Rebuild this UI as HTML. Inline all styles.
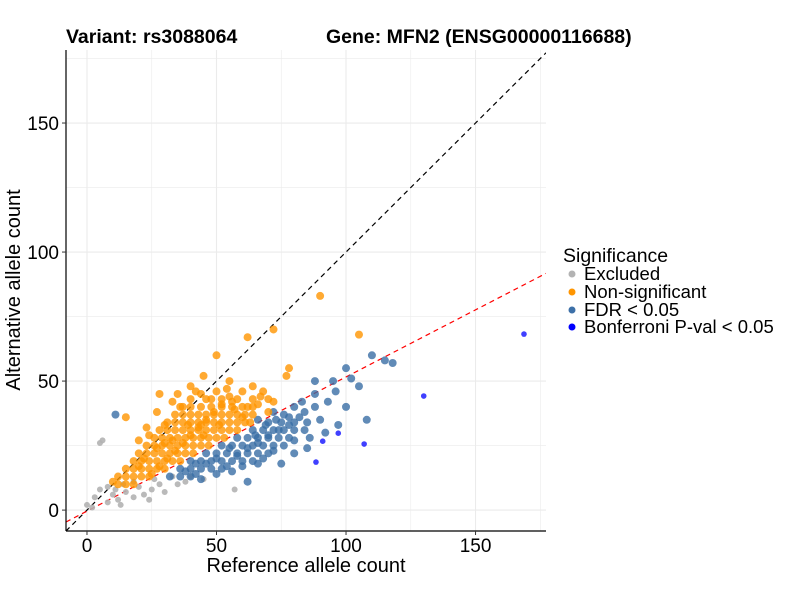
<!DOCTYPE html>
<html><head><meta charset="utf-8">
<style>
body{margin:0;background:#fff;}
svg text{font-family:"Liberation Sans",Arial,sans-serif;}
</style></head>
<body>
<svg id="chart" width="800" height="600" viewBox="0 0 800 600" xmlns="http://www.w3.org/2000/svg">
<rect width="800" height="600" fill="#fff"/>
<g id="grid"></g>
<g id="refs"></g>
<g id="pts"></g>
<g id="axes"></g>
<text x="66" y="43" font-size="19.5" font-weight="bold">Variant: rs3088064</text>
<text x="326" y="43" font-size="19.5" font-weight="bold">Gene: MFN2 (ENSG00000116688)</text>
<text x="306" y="572" font-size="20" text-anchor="middle">Reference allele count</text>
<text transform="translate(20,290) rotate(-90)" font-size="20" text-anchor="middle">Alternative allele count</text>
<g>
<text x="563" y="262" font-size="19.5">Significance</text>
<g><circle cx="572" cy="274" r="3.5" fill="#b3b3b3"/><text x="584" y="280" font-size="18.5">Excluded</text></g>
<g><circle cx="572" cy="292" r="3.5" fill="#ff9500"/><text x="584" y="298" font-size="18.5">Non-significant</text></g>
<g><circle cx="572" cy="310" r="3.5" fill="#3d70a8"/><text x="584" y="316" font-size="18.5">FDR &lt; 0.05</text></g>
<g><circle cx="572" cy="327" r="3.5" fill="#0000ff"/><text x="584" y="333" font-size="18.5">Bonferroni P-val &lt; 0.05</text></g>
</g>
</svg>
<script>
const xTicks=[0,50,100,150];
const yTicks=[0,50,100,150];
const excluded=[[5,26],[6,27],[3,5],[5,8],[8,3],[10,6],[12,4],[15,7],[18,5],[20,9],[22,6],[25,8],[28,10],[30,7],[8,9],[14,10],[40,13],[45,12],[57,8],[26,12],[35,10],[0,2],[2,1],[33,13],[38,11],[18,11],[11,8],[13,2],[24,4]];
const nonsig=[[12,10],[15,10],[18,10],[12,13],[15,13],[18,13],[21,13],[24,13],[15,16],[18,16],[21,16],[24,16],[27,16],[30,16],[18,19],[21,19],[24,19],[27,19],[30,19],[33,19],[36,19],[20,22],[23,22],[26,22],[29,22],[32,22],[35,22],[38,22],[41,22],[23,25],[26,25],[29,25],[32,25],[35,25],[38,25],[41,25],[44,25],[47,25],[26,28],[29,28],[32,28],[35,28],[38,28],[41,28],[44,28],[47,28],[50,28],[53,28],[28,31],[31,31],[34,31],[37,31],[40,31],[43,31],[46,31],[49,31],[52,31],[55,31],[58,31],[31,34],[34,34],[37,34],[40,34],[43,34],[46,34],[49,34],[52,34],[55,34],[58,34],[61,34],[34,37],[37,37],[40,37],[43,37],[46,37],[49,37],[52,37],[55,37],[58,37],[61,37],[64,37],[37,40],[40,40],[44,40],[48,40],[52,40],[56,40],[60,40],[64,40],[40,43],[46,43],[52,43],[58,43],[64,43],[70,43],[42,46],[50,46],[60,46],[68,46],[50,60],[62,67],[72,70],[90,83],[105,68],[78,55],[77,52],[28,45],[15,36],[23,32],[40,48],[55,50],[45,52],[33,42],[20,27],[27,38],[10,11],[20,17],[30,26],[44,33],[56,42],
[25,14],[28,17],[31,20],[34,23],[37,26],[40,29],[43,32],[46,35],[49,38],[52,41],[55,44],[62,40],[66,41],[70,38],[48,43],[44,45],[36,40],[30,33],[24,29],[60,36],[63,34],[22,20],[27,24],[33,27],[39,33],[45,29],[51,33],[57,39],[67,44],[72,42],[35,45],[54,47],[64,48]];
const fdr=[[32,13],[36,13],[40,13],[36,16],[40,16],[44,16],[48,16],[52,16],[40,19],[44,19],[48,19],[52,19],[56,19],[60,19],[64,19],[46,22],[50,22],[54,22],[58,22],[62,22],[66,22],[70,22],[52,25],[56,25],[60,25],[64,25],[68,25],[72,25],[76,25],[58,28],[62,28],[66,28],[70,28],[74,28],[78,28],[64,31],[68,31],[72,31],[76,31],[80,31],[70,34],[75,34],[80,34],[85,34],[80,40],[88,45],[95,50],[100,55],[110,60],[115,58],[118,57],[105,48],[92,30],[90,35],[97,33],[85,24],[75,18],[62,11],[11,37],[100,40],[108,35],[88,50],[93,42],[78,36],[44,12],[56,15],[84,38],[102,51],[96,46],[72,38],[66,35],[86,28],
[38,15],[42,18],[46,18],[50,20],[54,17],[58,21],[62,24],[66,26],[70,29],[74,31],[78,33],[82,36],[60,17],[68,20],[72,23],[80,27],[84,31],[76,37],[73,35],[69,33],[65,29],[55,24],[50,14],[42,14],[66,18],[80,22],[88,40],[83,42]];
const bonf=[[88.4,18.6],[91,26.7],[97,29.8],[107,25.6],[130,44.2],[168.7,68.2]];
const X0=66,X1=546,Y0=50,Y1=531,xmin=-8.1,xmax=177.2,ymin=-8.1,ymax=178.3;
const sx=v=>X0+(v-xmin)/(xmax-xmin)*(X1-X0);
const sy=v=>Y1-(v-ymin)/(ymax-ymin)*(Y1-Y0);
const NS="http://www.w3.org/2000/svg";
function mk(t,a,p){const e=document.createElementNS(NS,t);for(const k in a)e.setAttribute(k,a[k]);p.appendChild(e);return e;}
const grid=document.getElementById('grid');
for(let v=0;v<=175;v+=25){
 const gx=mk('line',{x1:sx(v),x2:sx(v),y1:Y0,y2:Y1,stroke:'#ebebeb','stroke-width':v%50?0.6:1.1},grid);
 
 
 const gy=mk('line',{x1:X0,x2:X1,y1:sy(v),y2:sy(v),stroke:'#ebebeb','stroke-width':v%50?0.6:1.1},grid);
 
 
}
const refs=document.getElementById('refs');
const l1=mk('line',{x1:sx(xmin),y1:sy(xmin),x2:sx(xmax),y2:sy(xmax),stroke:'#000','stroke-width':1.2,'stroke-dasharray':'5,4'},refs);


const slope=0.52,icpt=-0.4;
const l2=mk('line',{x1:sx(xmin),y1:sy(slope*xmin+icpt),x2:sx(xmax),y2:sy(slope*xmax+icpt),stroke:'#ff0000','stroke-width':1.2,'stroke-dasharray':'5,4'},refs);


const cp=mk('clipPath',{id:'cp'},document.getElementById('chart'));
mk('rect',{x:X0,y:Y0,width:X1-X0,height:Y1-Y0},cp);
refs.setAttribute('clip-path','url(#cp)');
const pts=document.getElementById('pts');
function draw(arr,col,op,r,name){
 arr.forEach(p=>{const c=mk('circle',{cx:sx(p[0]),cy:sy(p[1]),r:r,fill:col,'fill-opacity':op},pts);
 
 });
}
draw(excluded,'#b3b3b3',0.9,3,'point-excluded');
draw(fdr,'#3a6ea5',0.8,4,'point-fdr');
draw(nonsig,'#ff9500',0.8,4,'point-nonsignificant');
draw(bonf,'#0000ff',0.75,2.8,'point-bonferroni');
const ax=document.getElementById('axes');
mk('line',{x1:X0,x2:X0,y1:Y0,y2:Y1,stroke:'#000','stroke-width':1.2},ax);
mk('line',{x1:X0,x2:X1,y1:Y1,y2:Y1,stroke:'#000','stroke-width':1.2},ax);
xTicks.forEach(v=>{mk('line',{x1:sx(v),x2:sx(v),y1:Y1,y2:Y1+4,stroke:'#333'},ax);
 const t=mk('text',{x:sx(v),y:Y1+21,'font-size':19,'text-anchor':'middle',fill:'#000'},ax);t.textContent=v;
 
 });
yTicks.forEach(v=>{mk('line',{x1:X0-4,x2:X0,y1:sy(v),y2:sy(v),stroke:'#333'},ax);
 const t=mk('text',{x:X0-7,y:sy(v)+7,'font-size':19,'text-anchor':'end',fill:'#000'},ax);t.textContent=v;
 
 });
</script>
</body></html>
